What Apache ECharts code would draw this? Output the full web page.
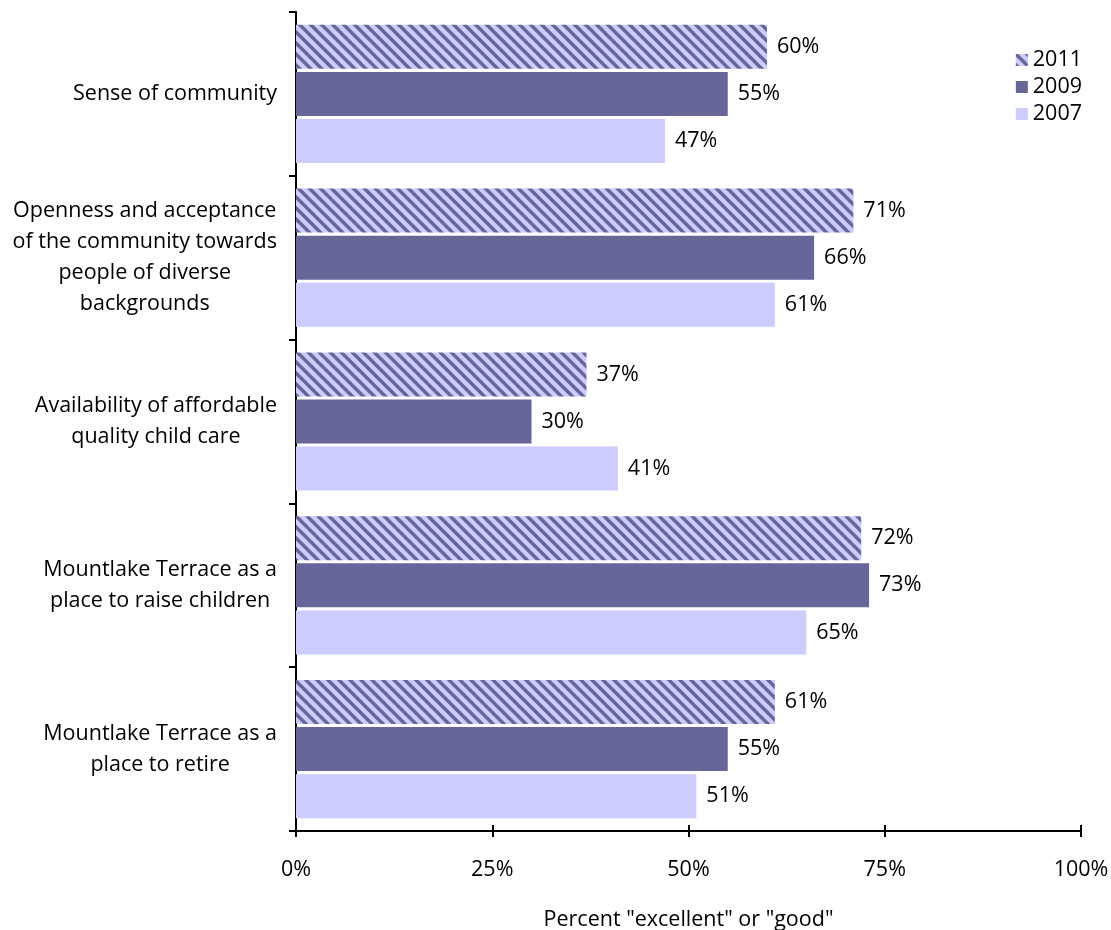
<!DOCTYPE html>
<html>
<head>
<meta charset="utf-8">
<script src="https://cdn.jsdelivr.net/npm/echarts@6/dist/echarts.min.js"></script>
<style>html,body{margin:0;padding:0;background:#fff;}#c{width:1111px;height:930px;}</style>
</head>
<body>
<div id="c"></div>
<script>
var categories = [
  'Sense of community',
  'Openness and acceptance\nof the community towards\npeople of diverse\nbackgrounds',
  'Availability of affordable\nquality child care',
  'Mountlake Terrace as a\nplace to raise children',
  'Mountlake Terrace as a\nplace to retire'
];
var seriesNames = ['2011', '2009', '2007'];
var values2011 = [60, 71, 37, 72, 61];
var values2009 = [55, 66, 30, 73, 55];
var values2007 = [47, 61, 41, 65, 51];
var xTicks = [0, 25, 50, 75, 100];

var FONT = '"Open Sans", sans-serif';
var FS = 21.5;

function makeHatch() {
  var s = 11;
  var cv = document.createElement('canvas');
  cv.width = s; cv.height = s;
  var ctx = cv.getContext('2d');
  ctx.fillStyle = '#CCCCFF';
  ctx.fillRect(0, 0, s, s);
  ctx.strokeStyle = '#666699';
  ctx.lineWidth = 3.4;
  for (var k = -1; k <= 1; k++) {
    ctx.beginPath();
    ctx.moveTo(k * s - 3, -3);
    ctx.lineTo(k * s + s + 3, s + 3);
    ctx.stroke();
  }
  return cv;
}
var hatch = { image: makeHatch(), repeat: 'repeat' };

var chart = echarts.init(document.getElementById('c'));
var labelCfg = {
  show: true, position: 'right', distance: 10,
  formatter: function (p) { return p.value + '%'; },
  color: '#000', fontSize: FS, fontFamily: FONT
};
var colors = [hatch, '#666699', '#CCCCFF'];
var data = [values2011, values2009, values2007];
var series = seriesNames.map(function (n, i) {
  return {
    name: n, type: 'bar', data: data[i],
    barWidth: 44, barGap: '7%',
    itemStyle: { color: colors[i] },
    label: labelCfg
  };
});

chart.setOption({
  animation: false,
  backgroundColor: '#fff',
  grid: { left: 296, right: 30, top: 12, bottom: 99, containLabel: false, outerBoundsMode: 'none' },
  legend: {
    data: seriesNames,
    orient: 'vertical',
    right: 24, top: 44,
    itemWidth: 12, itemHeight: 12, itemGap: 5,
    icon: 'rect',
    textStyle: { fontSize: FS, fontFamily: FONT, color: '#000' }
  },
  xAxis: [{
    type: 'value', min: 0, max: 100, interval: 25,
    axisLine: { show: true, lineStyle: { color: '#000', width: 2 } },
    axisTick: { show: true, length: 6, lineStyle: { color: '#000', width: 2 } },
    axisLabel: {
      formatter: function (v) { return xTicks.indexOf(v) >= 0 ? v + '%' : ''; },
      fontSize: FS, fontFamily: FONT, color: '#000', margin: 28
    },
    splitLine: { show: false },
    name: 'Percent "excellent" or "good"',
    nameLocation: 'middle', nameGap: 78,
    nameTextStyle: { fontSize: FS, fontFamily: FONT, color: '#000' }
  }, {
    type: 'value', min: 0, max: 100, interval: 25, position: 'bottom',
    axisLine: { show: false },
    axisTick: { show: true, inside: true, length: 6, lineStyle: { color: '#000', width: 2 } },
    axisLabel: { show: false },
    splitLine: { show: false }
  }],
  yAxis: {
    type: 'category', data: categories, inverse: true,
    axisLine: { show: true, lineStyle: { color: '#000', width: 2 } },
    axisTick: { show: true, length: 7, lineStyle: { color: '#000', width: 2 } },
    axisLabel: {
      margin: 19, align: 'right',
      formatter: function (v) {
        return v.split('\n').map(function (l) { return '{a|' + l + '}'; }).join('\n');
      },
      rich: { a: { align: 'center', fontSize: FS, fontFamily: FONT, color: '#000', lineHeight: 31 } }
    },
    splitLine: { show: false }
  },
  series: series
});
</script>
</body>
</html>
